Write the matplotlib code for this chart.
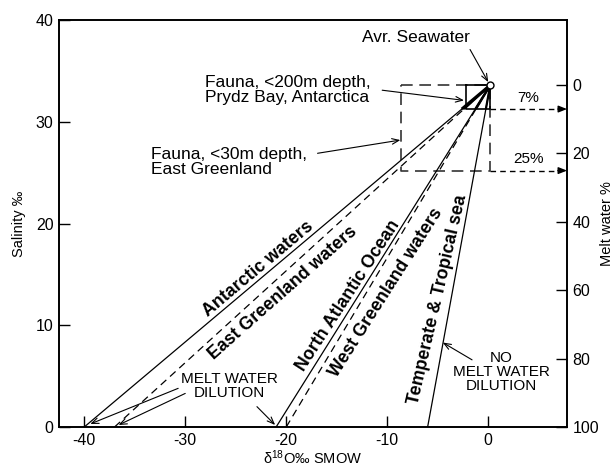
import matplotlib
matplotlib.use("Agg")
import matplotlib.pyplot as plt
import numpy as np

plt.rcParams["font.family"] = ["Liberation Sans", "DejaVu Sans"]
plt.rcParams["mathtext.fontset"] = "custom"
plt.rcParams["mathtext.rm"] = "Liberation Sans"
plt.rcParams["mathtext.default"] = "regular"

# Average seawater end-member (d18O, salinity)
sea_d18O = 0.2
sea_sal = 33.6

# Mixing lines: fresh-water end-member d18O at zero salinity
water_names = ["Antarctic waters", "East Greenland waters", "North Atlantic Ocean",
               "West Greenland waters", "Temperate & Tropical sea"]
fresh_d18O = [-40.0, -37.0, -21.0, -20.0, -6.0]
line_dashed = [False, True, False, True, False]

# Fauna sampling ranges (melt water %, d18O lower bound)
prydz_melt = 7
prydz_d18O_min = -2.2
greenland_melt = 25
greenland_d18O_min = -8.6

sal_ticks = [0, 10, 20, 30, 40]
d18O_ticks = [-40, -30, -20, -10, 0]
melt_ticks = [0, 20, 40, 60, 80, 100]


def melt_to_sal(m):
    return sea_sal * (1 - m / 100.0)


def sal_to_melt(s):
    return 100.0 * (1 - s / sea_sal)


fig = plt.figure(figsize=(6.15, 4.67), dpi=100)
ax = fig.add_axes([59 / 615, 40 / 467, 508 / 615, 407 / 467])
ax.set_xlim(-42.5, 7.8)
ax.set_ylim(0, 40)

# Mixing lines between each fresh-water source and average seawater
for d0, dashed in zip(fresh_d18O, line_dashed):
    ax.plot([d0, sea_d18O], [0, sea_sal], color="black", lw=0.9,
            ls=(0, (6, 4)) if dashed else "-", zorder=3)
    # heavier segment inside the Prydz Bay sampling window
    s_lo = melt_to_sal(prydz_melt)
    frac = s_lo / sea_sal
    x_lo = d0 + (sea_d18O - d0) * frac
    ax.plot([x_lo, sea_d18O], [s_lo, sea_sal], color="black",
            lw=2.2 if d0 == fresh_d18O[0] else 1.6,
            solid_capstyle="butt", zorder=3)

# Sampling windows
s7 = melt_to_sal(prydz_melt)
s25 = melt_to_sal(greenland_melt)
ax.plot([prydz_d18O_min, sea_d18O, sea_d18O, prydz_d18O_min, prydz_d18O_min],
        [sea_sal, sea_sal, s7, s7, sea_sal], color="black", lw=1.2, zorder=4)
ax.plot([greenland_d18O_min, sea_d18O, sea_d18O, greenland_d18O_min, greenland_d18O_min],
        [sea_sal, sea_sal, s25, s25, sea_sal], color="#333333", lw=1.2,
        ls=(0, (7, 4)), zorder=2)

# Dashed leaders to the melt-water scale
for s, lab in [(s7, f"{prydz_melt}%"), (s25, f"{greenland_melt}%")]:
    ax.plot([sea_d18O, 7.0], [s, s], color="black", lw=1.0, ls=(0, (4, 3)), zorder=2)
    ax.annotate("", xy=(7.8, s), xytext=(6.9, s),
                arrowprops=dict(arrowstyle="-|>,head_length=0.5,head_width=0.2",
                                color="black", lw=1.0, shrinkA=0, shrinkB=0))
    ax.text(4.0, s + 1.1, lab, fontsize=11, ha="center", va="center")

# Average seawater point
ax.plot([sea_d18O], [sea_sal], marker="o", ms=5, mfc="white", mec="black",
        mew=1.0, zorder=6)

# Rotated labels along the mixing lines
label_pos = [(-22.8, 15.5, 40), (-20.3, 13.2, 41.5), (-13.9, 12.9, 57),
             (-10.1, 13.2, 57.5), (-5.0, 12.5, 77)]
for name, (x, y, rot) in zip(water_names, label_pos):
    ax.text(x, y, name, fontsize=12.8, fontweight="bold", rotation=rot,
            ha="center", va="center", rotation_mode="anchor")

arrow = dict(arrowstyle="->,head_length=0.5,head_width=0.2", color="black",
             lw=0.8, shrinkA=0, shrinkB=0)

ax.text(-7.2, 38.3, "Avr. Seawater", fontsize=12.5, ha="center", va="center")
ax.annotate("", xy=(0.0, 33.9), xytext=(-1.8, 37.1), arrowprops=arrow)

ax.text(-28.0, 33.1, "Fauna, <200m depth,\nPrydz Bay, Antarctica", fontsize=12.5,
        ha="left", va="center", linespacing=1.0)
ax.annotate("", xy=(-2.4, 32.1), xytext=(-10.5, 33.1), arrowprops=arrow)

ax.text(-33.4, 26.0, "Fauna, <30m depth,\nEast Greenland", fontsize=12.5,
        ha="left", va="center", linespacing=1.0)
ax.annotate("", xy=(-8.7, 28.2), xytext=(-16.9, 26.9), arrowprops=arrow)

ax.text(-25.6, 4.0, "MELT WATER\nDILUTION", fontsize=11, ha="center",
        va="center", multialignment="center", linespacing=1.0)
ax.annotate("", xy=(-39.4, 0.3), xytext=(-30.7, 3.8), arrowprops=arrow)
ax.annotate("", xy=(-36.6, 0.2), xytext=(-30.0, 3.3), arrowprops=arrow)
ax.annotate("", xy=(-21.1, 0.2), xytext=(-22.9, 2.0), arrowprops=arrow)

ax.text(1.3, 5.4, "NO\nMELT WATER\nDILUTION", fontsize=11, ha="center",
        va="center", multialignment="center", linespacing=1.0)
ax.annotate("", xy=(-4.5, 8.3), xytext=(-1.6, 6.6), arrowprops=arrow)

# Axes styling
for sp in ax.spines.values():
    sp.set_linewidth(1.2)
ax.set_xticks(d18O_ticks)
ax.set_xticklabels([f"{t}" for t in d18O_ticks])
ax.set_yticks(sal_ticks)
ax.tick_params(direction="in", length=8, width=1.0, labelsize=11.5,
               right=False, top=False)
ax.tick_params(axis="x", pad=4)
ax.tick_params(axis="y", pad=4)
ax.set_xlabel("δ$^{18}$O‰ SMOW", fontsize=10.5)
ax.set_ylabel("Salinity ‰", fontsize=10.5)
ax.xaxis.set_label_coords(0.5, -0.075)
ax.xaxis.label.set_va("center")
ax.yaxis.set_label_coords(-0.079, 0.5)
ax.yaxis.label.set_va("center")

ax2 = ax.twinx()
ax2.set_ylim(sal_to_melt(0), sal_to_melt(40))
ax2.set_yticks(melt_ticks)
ax2.tick_params(direction="in", length=8, width=1.0, labelsize=11.5, pad=4)
ax2.set_ylabel("Melt water %", fontsize=10.5)
ax2.yaxis.set_label_coords(1.079, 0.5)
ax2.yaxis.label.set_va("center")
for sp in ax2.spines.values():
    sp.set_linewidth(1.2)

fig.savefig("out.png", dpi=100)
